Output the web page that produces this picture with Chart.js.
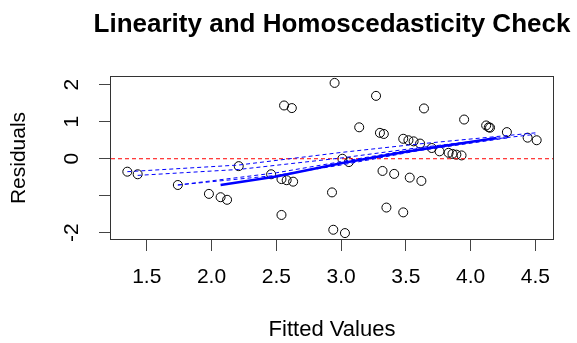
<!DOCTYPE html>
<html>
<head>
<meta charset="utf-8">
<script src="https://cdn.jsdelivr.net/npm/chart.js@4.4.1/dist/chart.umd.min.js"></script>
<style>
  html, body { margin: 0; padding: 0; background: #ffffff; }
  #wrap { width: 577px; height: 343px; }
</style>
</head>
<body>
<div id="wrap"><canvas id="residChart" width="577" height="343"></canvas></div>
<script>
// values
const fitted = [1.35, 1.43, 1.74, 1.98, 2.07, 2.12, 2.21, 2.46, 2.54, 2.54, 2.56, 2.58, 2.62, 2.63,
  2.93, 2.94, 2.95, 3.01, 3.03, 3.06, 3.14, 3.27, 3.30, 3.32, 3.33, 3.35, 3.41, 3.48, 3.48,
  3.52, 3.53, 3.56, 3.61, 3.62, 3.64, 3.70, 3.76, 3.83, 3.86, 3.89, 3.93, 3.95, 4.12, 4.14,
  4.15, 4.28, 4.44, 4.51];
const residuals = [-0.35, -0.42, -0.71, -0.95, -1.04, -1.11, -0.20, -0.42, -0.55, -1.52, 1.44, -0.58, 1.37, -0.62,
  -0.91, -1.92, 2.05, 0.00, -2.01, -0.09, 0.85, 1.70, 0.70, -0.33, 0.67, -1.32, -0.41, 0.54, -1.45,
  0.50, -0.51, 0.47, 0.41, -0.60, 1.36, 0.29, 0.20, 0.16, 0.13, 0.11, 0.09, 1.06, 0.90, 0.85,
  0.84, 0.72, 0.57, 0.50];

// smoother (solid) and the dashed variants
const smoothX = [2.07, 2.5, 3.0, 3.5, 4.2];
const smoothY = [-0.71, -0.48, -0.12, 0.19, 0.56];
const bandAX = [1.35, 2.21, 3.0, 3.6, 4.5];
const bandAY = [-0.35, -0.17, 0.17, 0.40, 0.70];
const bandBX = [1.43, 2.21, 3.0, 3.6, 4.5];
const bandBY = [-0.45, -0.29, 0.02, 0.30, 0.66];
const bandCX = [1.74, 2.5, 3.0, 3.6, 4.3];
const bandCY = [-0.71, -0.38, -0.08, 0.28, 0.60];
const bandDX = [1.74, 2.5, 3.0, 3.6, 4.3];
const bandDY = [-0.71, -0.45, -0.17, 0.22, 0.57];

const xLimits = [1.224, 4.636];
const yLimits = [-2.17, 2.21];
const refLineX = [1.224, 4.636];
const refLineY = [0, 0];

const xTicks = [1.5, 2.0, 2.5, 3.0, 3.5, 4.0, 4.5];
const xTickLabels = ['1.5', '2.0', '2.5', '3.0', '3.5', '4.0', '4.5'];
const yTicks = [-2, -1, 0, 1, 2];
const yTickLabels = ['-2', '', '0', '1', '2'];

const FONT = '"Liberation Sans", Arial, sans-serif';
const toXY = (xs, ys) => xs.map((x, i) => ({ x: x, y: ys[i] }));

function lineSet(xs, ys, color, width, dash) {
    return {
        data: toXY(xs, ys),
        showLine: true,
        borderColor: color,
        borderWidth: width,
        borderDash: dash,
        pointRadius: 0,
        tension: 0,
        fill: false
    };
}

// R style box round the plot region; title centred on the plot but allowed wider than it
const plotBox = {
    id: 'plotBox',
    afterLayout(chart) {
        const t = chart.titleBlock;
        if (!t) return;
        const c = (t.left + t.right) / 2;
        t.left = c - 270;
        t.right = c + 270;
        t.width = 540;
    },
    afterDatasetsDraw(chart) {
        const a = chart.chartArea;
        const ctx = chart.ctx;
        ctx.save();
        ctx.strokeStyle = '#333';
        ctx.lineWidth = 1;
        ctx.strokeRect(a.left - 0.5, a.top - 0.5, a.right - a.left + 1, a.bottom - a.top + 1);
        ctx.restore();
    }
};

new Chart(document.getElementById('residChart'), {
    type: 'scatter',
    data: {
        datasets: [
            lineSet(smoothX, smoothY, '#0000ff', 2.5, []),
            lineSet(bandAX, bandAY, '#0000ff', 1, [4, 3]),
            lineSet(bandBX, bandBY, '#0000ff', 1, [4, 3]),
            lineSet(bandCX, bandCY, '#0000ff', 1, [4, 3]),
            lineSet(bandDX, bandDY, '#0000ff', 1, [4, 3]),
            lineSet(refLineX, refLineY, '#ff0000', 1, [4, 3]),
            {
                data: toXY(fitted, residuals),
                pointStyle: 'circle',
                pointRadius: 4.5,
                pointBorderColor: '#000',
                pointBackgroundColor: 'rgba(0,0,0,0)',
                pointBorderWidth: 1
            }
        ]
    },
    options: {
        responsive: false,
        animation: false,
        events: [],
        layout: { padding: { left: 0, right: 24, top: 0, bottom: 0 } },
        plugins: {
            legend: { display: false },
            tooltip: { enabled: false },
            title: {
                display: true,
                fullSize: false,
                text: 'Linearity and Homoscedasticity Check',
                color: '#000',
                font: { family: FONT, size: 26, weight: 'bold', lineHeight: 1.2 },
                padding: { top: 9.7, bottom: 36.1 }
            }
        },
        scales: {
            x: {
                type: 'linear',
                min: xLimits[0],
                max: xLimits[1],
                afterBuildTicks: s => { s.ticks = xTicks.map(v => ({ value: v })); },
                afterFit: s => { s.height = 104; },
                ticks: {
                    autoSkip: false,
                    minRotation: 0,
                    maxRotation: 0,
                    padding: 14,
                    color: '#000',
                    font: { family: FONT, size: 21, lineHeight: 1.2 },
                    callback: (v, i) => xTickLabels[i]
                },
                grid: { drawOnChartArea: false, drawTicks: true, tickLength: 12, color: '#444', lineWidth: 1 },
                border: { display: false },
                title: {
                    display: true,
                    text: 'Fitted Values',
                    color: '#000',
                    font: { family: FONT, size: 22, lineHeight: 1.2 },
                    padding: { top: 0, bottom: 0 }
                }
            },
            y: {
                type: 'linear',
                min: yLimits[0],
                max: yLimits[1],
                afterBuildTicks: s => { s.ticks = yTicks.map(v => ({ value: v })); },
                afterFit: s => { s.width = 111; },
                ticks: {
                    autoSkip: false,
                    minRotation: 90,
                    maxRotation: 90,
                    crossAlign: 'center',
                    padding: 17,
                    color: '#000',
                    font: { family: FONT, size: 21, lineHeight: 1.2 },
                    callback: (v, i) => yTickLabels[i]
                },
                grid: { drawOnChartArea: false, drawTicks: true, tickLength: 12, color: '#444', lineWidth: 1 },
                border: { display: false },
                title: {
                    display: true,
                    text: 'Residuals',
                    color: '#000',
                    font: { family: FONT, size: 21, lineHeight: 1.2 },
                    padding: { top: 6.8, bottom: 0 }
                }
            }
        }
    },
    plugins: [plotBox]
});
</script>
</body>
</html>
